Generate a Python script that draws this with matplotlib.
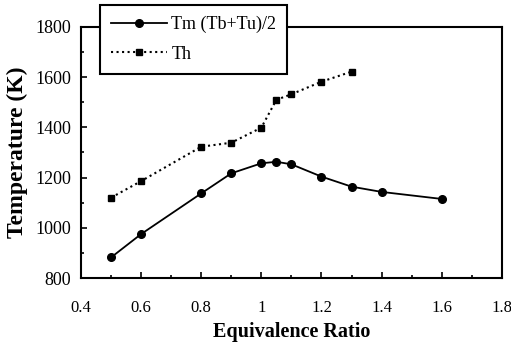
import matplotlib.pyplot as plt
from matplotlib.ticker import MultipleLocator

plt.rcParams['font.family'] = ['Liberation Serif', 'DejaVu Serif']

# data
phi_tm = [0.5, 0.6, 0.8, 0.9, 1.0, 1.05, 1.1, 1.2, 1.3, 1.4, 1.6]
tm = [882, 975, 1137, 1217, 1257, 1263, 1253, 1204, 1164, 1143, 1115]
phi_th = [0.5, 0.6, 0.8, 0.9, 1.0, 1.05, 1.1, 1.2, 1.3]
th = [1120, 1186, 1323, 1339, 1399, 1510, 1532, 1582, 1622]

fig = plt.figure(figsize=(5.11, 3.46), dpi=100)
ax = fig.add_axes([0.1585, 0.1965, 0.8235, 0.7255])

ax.plot(phi_tm, tm, '-', color='black', lw=1.3, marker='o', ms=5.5,
        label='Tm (Tb+Tu)/2')
ax.plot(phi_th, th, ':', color='black', lw=1.5, marker='s', ms=4.5,
        label='Th')

ax.set_xlim(0.4, 1.8)
ax.set_ylim(800, 1800)
ax.xaxis.set_major_locator(MultipleLocator(0.2))
ax.xaxis.set_minor_locator(MultipleLocator(0.1))
ax.yaxis.set_major_locator(MultipleLocator(200))
ax.yaxis.set_minor_locator(MultipleLocator(100))
ax.xaxis.set_ticks([0.4, 0.6, 0.8, 1.0, 1.2, 1.4, 1.6, 1.8])
ax.set_xticklabels(['0.4', '0.6', '0.8', '1', '1.2', '1.4', '1.6', '1.8'])
ax.tick_params(which='both', direction='in', width=1.2)
ax.tick_params(which='major', length=4)
ax.tick_params(which='minor', length=2.5)
ax.tick_params(axis='x', pad=16, labelsize=12)
ax.tick_params(axis='y', pad=7, labelsize=13)
for s in ax.spines.values():
    s.set_linewidth(1.5)

ax.set_xlabel('Equivalence Ratio', fontsize=14.5, fontweight='bold', labelpad=4)
ax.set_ylabel('Temperature (K)', fontsize=17, fontweight='bold', labelpad=5)

leg = ax.legend(loc='upper left', bbox_to_anchor=(0.045, 1.088), fontsize=13,
                frameon=True, fancybox=False, edgecolor='black',
                borderpad=0.6, labelspacing=0.7, handlelength=3.1,
                handletextpad=0.25, borderaxespad=0)
leg.get_frame().set_linewidth(1.5)
leg.get_frame().set_alpha(1)

fig.savefig('out.png', dpi=100)
